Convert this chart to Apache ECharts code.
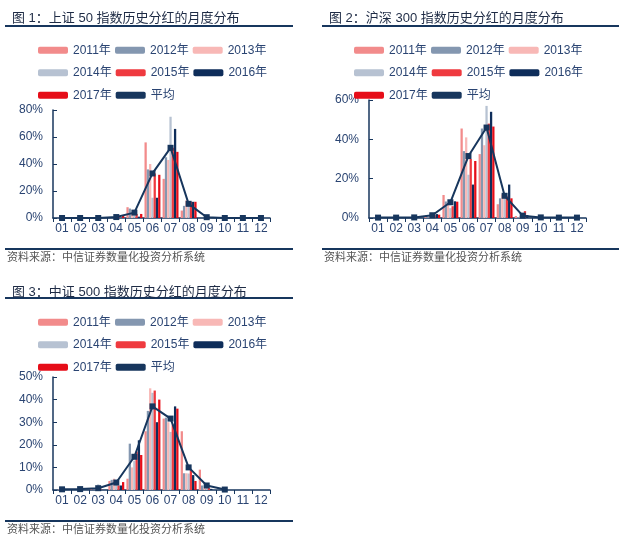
<!DOCTYPE html>
<html>
<head>
<meta charset="utf-8">
<script src="https://cdn.jsdelivr.net/npm/echarts@6/dist/echarts.min.js"></script>
<style>
  html, body { margin: 0; padding: 0; background: #ffffff; }
  #wrap { position: relative; width: 625px; height: 546px; }
  .panel { position: absolute; }
</style>
</head>
<body>
<div id="wrap">
  <div id="c1" class="panel" style="left:0;top:0;width:310px;height:272px;"></div>
  <div id="c2" class="panel" style="left:315px;top:0;width:310px;height:272px;"></div>
  <div id="c3" class="panel" style="left:0;top:275px;width:310px;height:271px;"></div>
</div>
<script>
// 月份
var months = ["01", "02", "03", "04", "05", "06", "07", "08", "09", "10", "11", "12"];
var years = ["2011年", "2012年", "2013年", "2014年", "2015年", "2016年", "2017年"];
var avgName = "平均";

// 图1 上证50 (%)
var sz50_2011 = [0, 0, 0, 0.5, 8, 56, 29, 5.5, 0, 0, 0, 0];
var sz50_2012 = [0, 0, 0, 0, 7, 36, 45, 9, 0, 0, 0, 0];
var sz50_2013 = [0, 0, 0, 0.5, 4, 40, 43, 13, 0, 0, 0, 0];
var sz50_2014 = [0, 0, 0, 1, 2, 15, 75, 10, 1, 0, 0, 0];
var sz50_2015 = [0, 0, 0, 1, 3, 33, 52, 12, 1, 0, 0, 0];
var sz50_2016 = [0, 0, 0, 0, 1, 15, 66, 12, 0, 0, 0, 0];
var sz50_2017 = [0, 0, 0, 1.5, 3, 32, 49, 12, 0, 0, 0, 0];
var sz50_avg = [0, 0, 0, 0.7, 4, 33, 52, 10.5, 0.6, 0, 0, 0];

// 图2 沪深300 (%)
var hs300_2011 = [0, 0, 0, 1, 11.7, 45.5, 32.5, 7, 1, 0, 0, 0];
var hs300_2012 = [0, 0, 0, 0.5, 8.4, 34, 45.5, 10, 0.5, 0, 0, 0];
var hs300_2013 = [0, 0, 0, 1, 7.6, 41, 37, 12, 1, 0, 0, 0];
var hs300_2014 = [0, 0, 0, 2, 5, 22, 57, 12, 1, 0, 0, 0];
var hs300_2015 = [0, 0, 0, 1.5, 6, 30, 48, 11, 3.5, 0, 0, 0];
var hs300_2016 = [0, 0, 0, 2, 8.5, 17, 54, 17, 1.5, 0, 0, 0];
var hs300_2017 = [0, 0, 0, 1.7, 8.3, 29, 46.5, 10, 0, 0, 0, 0];
var hs300_avg = [0.2, 0.2, 0.3, 1.4, 8, 31.5, 46, 11.3, 1.2, 0.3, 0.2, 0.2];

// 图3 中证500 (%)
var zz500_2011 = [0, 0, 0.5, 4, 5, 26, 31.6, 26, 9, 0, 0, 0];
var zz500_2012 = [0, 0, 0.5, 4.5, 20.5, 35, 32, 7.4, 2, 0, 0, 0];
var zz500_2013 = [0.5, 0.5, 1, 5, 10, 45, 30, 7.4, 1, 0, 0, 0];
var zz500_2014 = [0.5, 0.5, 2.5, 3, 13, 43, 25.7, 7.3, 1.5, 0, 0, 0];
var zz500_2015 = [0, 0, 0.5, 2, 17, 44, 29, 9, 1, 0, 0, 0];
var zz500_2016 = [0, 0, 0, 2, 22, 30, 37, 6.6, 0.5, 0, 0, 0];
var zz500_2017 = [0, 0, 0, 3.5, 15.5, 40, 36, 4, 0, 0, 0, 0];
var zz500_avg = [0.3, 0.4, 0.8, 3.3, 14.7, 37, 31.6, 10, 2, 0.2, null, null];

var yearColors = ["#F28B8B", "#8497B0", "#F8B8B6", "#B7C2D2", "#EF3A3F", "#0E2D5A", "#E60D18"];
var navy = "#17365D";
var textColor = "#2A4472";
var fontFamily = "'Liberation Sans', 'Noto Sans CJK SC', sans-serif";

function makeOption(cfg) {
  var series = [];
  cfg.yearData.forEach(function (d, i) {
    series.push({
      name: years[i],
      type: "bar",
      barGap: "0%",
      barCategoryGap: "12%",
      itemStyle: { color: yearColors[i] },
      data: d
    });
  });
  series.push({
    name: avgName,
    type: "line",
    symbol: "rect",
    symbolSize: 6,
    lineStyle: { color: navy, width: 2 },
    itemStyle: { color: navy },
    data: cfg.avg
  });

  var legendData = years.slice();
  legendData.push({ name: avgName, icon: "roundRect" });

  return {
    backgroundColor: "#ffffff",
    animation: false,
    textStyle: { fontFamily: fontFamily },
    title: {
      text: cfg.title,
      left: cfg.titleLeft,
      top: cfg.titleTop,
      textStyle: { fontSize: 13, fontWeight: "normal", color: "#1E2B45", fontFamily: fontFamily }
    },
    legend: {
      left: cfg.legendLeft,
      top: cfg.legendTop,
      width: 240,
      itemWidth: 30,
      itemHeight: 7,
      itemGap: 4,
      padding: 0,
      textStyle: { color: textColor, fontSize: 12, width: 38, lineHeight: 18.5, fontFamily: fontFamily },
      data: legendData
    },
    grid: {
      left: cfg.grid[0],
      top: cfg.grid[1],
      right: cfg.grid[2],
      bottom: cfg.grid[3],
      containLabel: false
    },
    xAxis: {
      type: "category",
      data: months,
      axisLine: { lineStyle: { color: navy, width: 1.5 } },
      axisTick: { show: true, length: 4, lineStyle: { color: navy } },
      axisLabel: { color: textColor, fontSize: 12, margin: 5, interval: 0 }
    },
    yAxis: {
      type: "value",
      min: 0,
      max: cfg.yMax,
      interval: cfg.yInterval,
      axisLine: { show: true, lineStyle: { color: navy, width: 1.5 } },
      axisTick: { show: true, inside: true, length: 4, lineStyle: { color: navy } },
      axisLabel: { color: textColor, fontSize: 12, margin: 10, formatter: "{value}%" },
      splitLine: { show: false }
    },
    graphic: [
      {
        type: "line",
        shape: { x1: cfg.lineX1, y1: cfg.titleLineY, x2: cfg.lineX2, y2: cfg.titleLineY },
        style: { stroke: navy, lineWidth: 2 }
      },
      {
        type: "line",
        shape: { x1: cfg.lineX1, y1: cfg.footLineY, x2: cfg.lineX2, y2: cfg.footLineY },
        style: { stroke: navy, lineWidth: 2 }
      },
      {
        type: "text",
        left: cfg.titleLeft,
        top: cfg.footLineY + 3,
        style: { text: "资料来源：中信证券数量化投资分析系统", fill: "#555555", fontSize: 11, fontFamily: fontFamily }
      }
    ],
    series: series
  };
}

var chart1 = echarts.init(document.getElementById("c1"));
chart1.setOption(makeOption({
  title: "图 1：上证 50 指数历史分红的月度分布",
  titleLeft: 7, titleTop: 7,
  lineX1: 5, lineX2: 293, titleLineY: 26, footLineY: 249,
  legendLeft: 38, legendTop: 41,
  grid: [53, 110, 40, 54],
  yMax: 80, yInterval: 20,
  yearData: [sz50_2011, sz50_2012, sz50_2013, sz50_2014, sz50_2015, sz50_2016, sz50_2017],
  avg: sz50_avg
}));

var chart2 = echarts.init(document.getElementById("c2"));
chart2.setOption(makeOption({
  title: "图 2：沪深 300 指数历史分红的月度分布",
  titleLeft: 9, titleTop: 7,
  lineX1: 7, lineX2: 304, titleLineY: 26, footLineY: 249,
  legendLeft: 39, legendTop: 41,
  grid: [54, 100, 39, 54],
  yMax: 60, yInterval: 20,
  yearData: [hs300_2011, hs300_2012, hs300_2013, hs300_2014, hs300_2015, hs300_2016, hs300_2017],
  avg: hs300_avg
}));

var chart3 = echarts.init(document.getElementById("c3"));
chart3.setOption(makeOption({
  title: "图 3：中证 500 指数历史分红的月度分布",
  titleLeft: 7, titleTop: 6,
  lineX1: 5, lineX2: 293, titleLineY: 23, footLineY: 246,
  legendLeft: 38, legendTop: 38,
  grid: [53, 102, 40, 56],
  yMax: 50, yInterval: 10,
  yearData: [zz500_2011, zz500_2012, zz500_2013, zz500_2014, zz500_2015, zz500_2016, zz500_2017],
  avg: zz500_avg
}));
</script>
</body>
</html>
